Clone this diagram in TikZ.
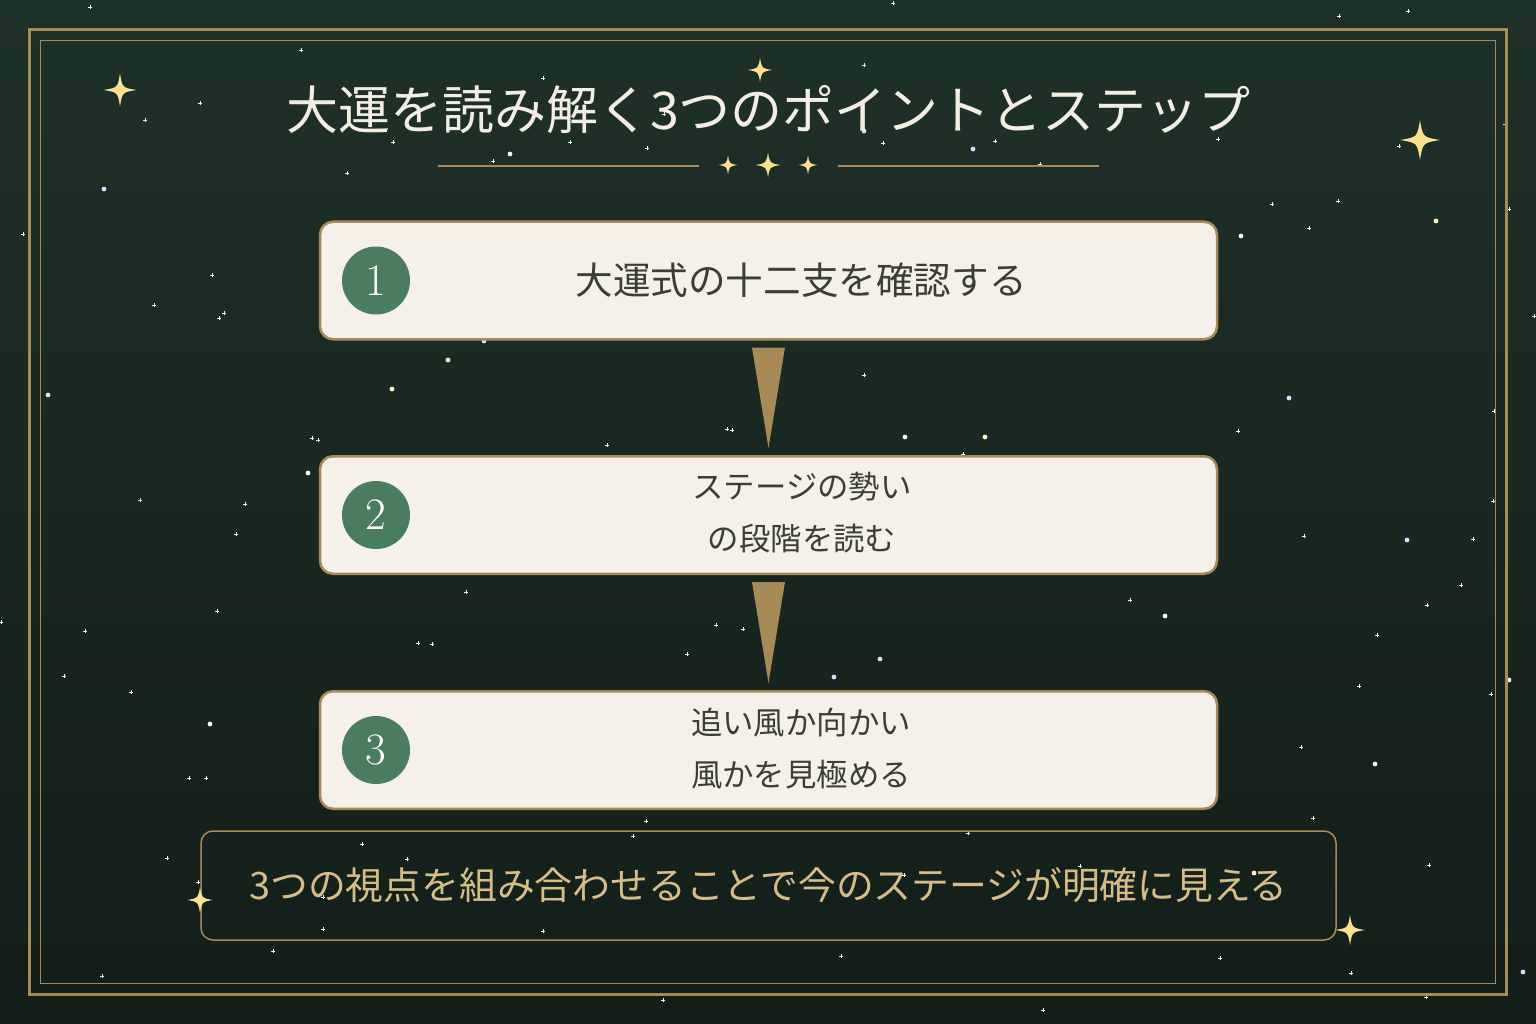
\documentclass[tikz,border=0pt]{standalone}
\usepackage{fontspec}
\newfontfamily\jp{Noto Sans CJK JP}
\usetikzlibrary{calc}
\definecolor{bgtop}{HTML}{1E3128}
\definecolor{bgbot}{HTML}{131E19}
\definecolor{gold}{HTML}{A88A58}
\definecolor{cream}{HTML}{F5F1EA}
\definecolor{stepgreen}{HTML}{4A7C5E}
\definecolor{boxtext}{HTML}{3A3F35}
\definecolor{titlecol}{HTML}{F3EEE3}
\definecolor{sumtext}{HTML}{D6BD88}
\definecolor{sparkcol}{HTML}{FDE08F}
\definecolor{starwhite}{HTML}{F4F4EE}
\definecolor{starblue}{HTML}{D8DCFF}
\definecolor{starcream}{HTML}{FFF1C4}
\tikzset{
  sparkle/.pic={\fill[sparkcol] (0,-1) .. controls (0.14,-0.14) .. (1,0) .. controls (0.14,0.14) .. (0,1) .. controls (-0.14,0.14) .. (-1,0) .. controls (-0.14,-0.14) .. (0,-1) -- cycle;},
  stepbox/.style={draw=gold, line width=2.5pt, fill=cream, rounded corners=13pt, minimum width=897pt, minimum height=117.5pt, inner sep=0pt},
  numdisc/.style={circle, fill=stepgreen, minimum size=68pt, inner sep=0pt, text=white, font=\fontsize{45}{45}\selectfont},
  steptext/.style={text=boxtext, align=center, inner sep=0pt},
  sumbox/.style={draw=gold, line width=1.5pt, rounded corners=12pt, minimum width=1135pt, minimum height=109pt, inner sep=0pt, text=sumtext, font=\jp\fontsize{37.8}{40}\selectfont},
  goldtri/.style={fill=gold},
  tinystar/.style={starwhite, line width=0.7pt},
}
\begin{document}
\begin{tikzpicture}[x=1pt,y=-1pt]
\useasboundingbox (0,0) rectangle (1536,1024);
\shade[top color=bgtop, bottom color=bgbot] (0,0) rectangle (1536,1024);
% tiny stars
\foreach \x/\y in {90/7,301/50,200/103,145/120,23/234,393/142,347/173,493/161,212/275,154/305,224/313,219/318,312/438,318/440,140/500,245/504,
1339/16,1408/11,1218/139,1399/146,1272/204,1338/201,1309/228,1509/209,1534/316,1238/431,1494/411,1493/501,1040/164,1505/124,
236/534,466/592,217/611,85/631,1/622,64/676,131/692,189/778,206/778,418/643,432/644,362/844,407/859,167/858,198/882,323/897,323/929,273/951,102/976,
1304/536,1473/539,1461/585,1427/605,1377/635,1130/600,1359/686,1491/694,1301/747,1313/818,1429/865,1080/866,1220/958,1351/973,1426/997,1043/1010,
893/3,864/65,543/78,664/114,570/142,647/148,883/143,995/141,864/375,727/429,732/430,607/445,963/454,
716/625,743/629,687/654,646/821,633/836,968/833,904/875,543/931,841/956,663/1000}
  {\draw[tinystar] (\x-1.6,\y) -- (\x+1.6,\y) (\x,\y-1.6) -- (\x,\y+1.6);}
\foreach \x/\y in {510/154,308/473,1241/236,210/724,1165/616,1375/764,905/437,1509/680}
  {\fill[starwhite] (\x,\y) circle (2.4);}
\foreach \x/\y in {104/189,484/341,48/395,1289/398,1407/540,1523/972,864/131,973/149,880/659,834/677}
  {\fill[starblue] (\x,\y) circle (2.4);}
\foreach \x/\y in {448/360,392/389,1436/221,1254/873,985/437}
  {\fill[starcream] (\x,\y) circle (2.4);}
% frames
\draw[gold, line width=3pt] (29.5,29.5) rectangle (1506.5,994.5);
\draw[gold, line width=1pt] (40.5,40.5) rectangle (1495.5,983.5);
% title
\node[text=titlecol, font=\jp\fontsize{52}{60}\selectfont, inner sep=0pt] (title) at (768.5,110) {大運を読み解く3つのポイントとステップ};
\coordinate (dl1) at (438,166);
\coordinate (dl2) at (699,166);
\coordinate (dr1) at (838,166);
\coordinate (dr2) at (1099,166);
\draw[gold, line width=1.6pt] (dl1) -- (dl2) (dr1) -- (dr2);
\pic[scale=9.5] at (728,165) {sparkle};
\pic[scale=12.5] at (768,165) {sparkle};
\pic[scale=9.5] at (808,165) {sparkle};
% steps
\node[stepbox] (b1) at (768.5,280.5) {};
\node[stepbox] (b2) at (768.5,515) {};
\node[stepbox] (b3) at (768.5,750) {};
\node[numdisc] (n1) at (376,280.5) {1};
\node[numdisc] (n2) at (376,515) {2};
\node[numdisc] (n3) at (376,750) {3};
\node[steptext, font=\jp\fontsize{37.6}{40}\selectfont] (t1) at (801,280) {大運式の十二支を確認する};
\node[steptext, font=\jp\fontsize{31.4}{52}\selectfont] (t2) at (802,513) {ステージの勢い\\の段階を読む};
\node[steptext, font=\jp\fontsize{31.4}{52}\selectfont] (t3) at (801,748.5) {追い風か向かい\\風かを見極める};
% arrows
\fill[goldtri] ($(b1.south)+(-16.5,7)$) -- ($(b1.south)+(16.5,7)$) -- ($(b2.north)+(0,-7)$) -- cycle;
\fill[goldtri] ($(b2.south)+(-16.5,7)$) -- ($(b2.south)+(16.5,7)$) -- ($(b3.north)+(0,-7)$) -- cycle;
% summary
\node[sumbox] (sum) at (768.5,885.5) {3つの視点を組み合わせることで今のステージが明確に見える};
% sparkles
\pic[scale=16.5] at (120,90) {sparkle};
\pic[scale=12] at (760,70) {sparkle};
\pic[scale=20] at (1420,140) {sparkle};
\pic[scale=13] at (200,900) {sparkle};
\pic[scale=15] at (1350,930) {sparkle};
\end{tikzpicture}
\end{document}
